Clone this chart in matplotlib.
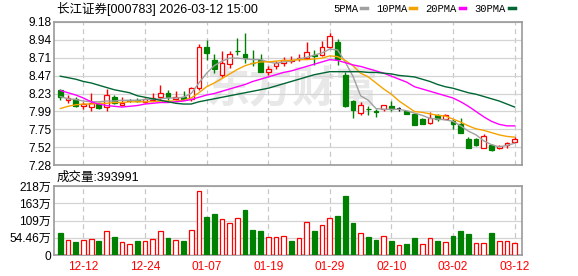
import matplotlib
matplotlib.use('Agg')
import matplotlib.pyplot as plt
from matplotlib.lines import Line2D
import numpy as np

plt.rcParams['font.family'] = ['Liberation Sans', 'Noto Sans CJK SC']

# trading days (MM-DD)
dates = ['12-09', '12-10', '12-11', '12-12', '12-15', '12-16', '12-17', '12-18', '12-19', '12-22',
         '12-23', '12-24', '12-25', '12-26', '12-29', '12-30', '12-31', '01-05', '01-06', '01-07',
         '01-08', '01-09', '01-12', '01-13', '01-14', '01-15', '01-16', '01-19', '01-20', '01-21',
         '01-22', '01-23', '01-26', '01-27', '01-28', '01-29', '01-30', '02-02', '02-03', '02-04',
         '02-05', '02-06', '02-09', '02-10', '02-11', '02-12', '02-13', '02-24', '02-25', '02-26',
         '02-27', '03-02', '03-03', '03-04', '03-05', '03-06', '03-09', '03-10', '03-11', '03-12']

opens = [8.27, 8.14, 8.16, 8.07, 8.05, 8.09, 8.05, 8.18, 8.08, 8.13,
         8.14, 8.12, 8.14, 8.18, 8.24, 8.16, 8.19, 8.16, 8.30, 8.85,
         8.67, 8.48, 8.62, 8.80, 8.76, 8.64, 8.68, 8.52, 8.59, 8.63,
         8.66, 8.69, 8.70, 8.74, 8.74, 8.85, 8.91, 8.48, 8.13, 7.97,
         8.03, 8.00, 8.03, 8.07, 8.02, 8.00, 7.96, 7.89, 7.84, 7.94,
         7.89, 7.86, 7.82, 7.62, 7.62, 7.51, 7.55, 7.51, 7.54, 7.59]
highs = [8.29, 8.21, 8.18, 8.12, 8.24, 8.12, 8.29, 8.21, 8.18, 8.16,
         8.17, 8.17, 8.24, 8.34, 8.28, 8.26, 8.26, 8.32, 8.89, 8.94,
         8.76, 8.80, 8.79, 8.97, 9.03, 8.81, 8.75, 8.59, 8.66, 8.72,
         8.73, 8.75, 8.91, 8.81, 8.93, 9.03, 8.95, 8.51, 8.15, 8.12,
         8.07, 8.03, 8.08, 8.13, 8.05, 8.00, 7.97, 7.90, 7.98, 7.96,
         7.96, 7.89, 7.90, 7.65, 7.64, 7.69, 7.56, 7.55, 7.59, 7.65]
lows = [8.14, 8.10, 8.05, 8.02, 8.00, 8.02, 8.00, 8.09, 8.07, 8.12,
        8.12, 8.11, 8.13, 8.14, 8.14, 8.14, 8.14, 8.13, 8.28, 8.68,
        8.50, 8.45, 8.57, 8.74, 8.63, 8.59, 8.52, 8.48, 8.55, 8.59,
        8.64, 8.66, 8.69, 8.61, 8.73, 8.84, 8.61, 8.05, 7.90, 7.95,
        7.94, 7.92, 8.00, 8.00, 8.00, 7.96, 7.81, 7.82, 7.83, 7.86,
        7.89, 7.76, 7.70, 7.50, 7.53, 7.50, 7.46, 7.49, 7.51, 7.58]
closes = [8.18, 8.17, 8.06, 8.09, 8.10, 8.04, 8.21, 8.11, 8.11, 8.13,
          8.13, 8.16, 8.17, 8.23, 8.19, 8.18, 8.16, 8.30, 8.85, 8.77,
          8.55, 8.64, 8.76, 8.79, 8.70, 8.63, 8.52, 8.56, 8.64, 8.68,
          8.677, 8.70, 8.78, 8.73, 8.85, 9.00, 8.69, 8.06, 8.01, 8.08,
          8.02, 7.98, 8.08, 8.02, 8.02, 7.96, 7.81, 7.83, 7.91, 7.89,
          7.95, 7.83, 7.71, 7.51, 7.54, 7.66, 7.48, 7.53, 7.57, 7.62]

ma5 = [8.19, 8.16, 8.15, 8.13, 8.12, 8.12, 8.13, 8.13, 8.14, 8.14,
       8.14, 8.15, 8.15, 8.16, 8.17, 8.17, 8.18, 8.23, 8.37, 8.50,
       8.60, 8.66, 8.70, 8.70, 8.69, 8.68, 8.68, 8.65, 8.63, 8.65,
       8.66, 8.69, 8.71, 8.74, 8.77, 8.82, 8.81, 8.65, 8.46, 8.20,
       8.14, 8.03, 8.02, 8.02, 8.02, 8.00, 7.97, 7.94, 7.90, 7.89,
       7.88, 7.86, 7.80, 7.73, 7.68, 7.60, 7.55, 7.52, 7.54, 7.57]
ma10 = [8.03, 8.06, 8.08, 8.09, 8.09, 8.10, 8.10, 8.11, 8.11, 8.12,
        8.12, 8.12, 8.12, 8.13, 8.13, 8.13, 8.14, 8.17, 8.24, 8.32,
        8.37, 8.43, 8.49, 8.55, 8.60, 8.63, 8.65, 8.65, 8.66, 8.67,
        8.67, 8.68, 8.68, 8.69, 8.70, 8.73, 8.72, 8.67, 8.60, 8.50,
        8.45, 8.37, 8.29, 8.22, 8.13, 8.06, 7.99, 7.98, 7.96, 7.94,
        7.93, 7.89, 7.85, 7.80, 7.76, 7.74, 7.71, 7.68, 7.66, 7.65]
ma20 = [8.27, 8.24, 8.21, 8.17, 8.12, 8.09, 8.07, 8.06, 8.05, 8.06,
        8.07, 8.09, 8.10, 8.11, 8.11, 8.12, 8.13, 8.15, 8.18, 8.21,
        8.23, 8.26, 8.29, 8.32, 8.35, 8.39, 8.42, 8.45, 8.48, 8.51,
        8.53, 8.56, 8.59, 8.62, 8.65, 8.68, 8.67, 8.64, 8.61, 8.59,
        8.56, 8.53, 8.50, 8.46, 8.42, 8.38, 8.32, 8.29, 8.26, 8.23,
        8.20, 8.17, 8.12, 8.06, 7.99, 7.92, 7.86, 7.82, 7.80, 7.80]
ma30 = [8.46, 8.44, 8.42, 8.39, 8.37, 8.34, 8.31, 8.28, 8.26, 8.24,
        8.20, 8.18, 8.16, 8.14, 8.12, 8.10, 8.09, 8.09, 8.12, 8.14,
        8.16, 8.18, 8.20, 8.22, 8.24, 8.26, 8.28, 8.30, 8.33, 8.36,
        8.39, 8.42, 8.45, 8.48, 8.50, 8.52, 8.52, 8.52, 8.52, 8.52,
        8.51, 8.51, 8.50, 8.49, 8.47, 8.46, 8.45, 8.42, 8.39, 8.35,
        8.32, 8.30, 8.27, 8.24, 8.22, 8.19, 8.16, 8.13, 8.09, 8.05]

# volume in 万 (10k)
volume = [69.5, 47.4, 41.0, 47.4, 50.5, 44.2, 74.7, 56.8, 41.0, 34.7,
          44.2, 44.2, 50.5, 75.8, 53.7, 47.4, 44.2, 78.9, 202.0, 120.0,
          129.4, 113.7, 101.0, 116.8, 142.0, 78.9, 75.8, 56.8, 56.8, 60.0,
          44.2, 53.7, 104.2, 75.8, 94.7, 116.8, 123.1, 186.3, 101.0, 69.5,
          56.8, 47.4, 60.0, 44.2, 31.6, 34.7, 53.7, 34.7, 53.7, 44.2,
          41.0, 60.0, 75.8, 66.3, 37.9, 37.9, 69.5, 44.2, 44.2, 39.4]
vol_up = [0, 1, 0, 1, 1, 0, 1, 0, 1, 1,
          0, 1, 1, 1, 0, 1, 0, 1, 1, 0,
          0, 1, 1, 1, 0, 0, 0, 1, 1, 1,
          0, 1, 1, 0, 1, 1, 0, 0, 0, 1,
          0, 0, 1, 0, 1, 0, 0, 1, 1, 0,
          1, 0, 0, 0, 1, 1, 0, 1, 1, 1]

price_ticks = [7.28, 7.5175, 7.755, 7.9925, 8.23, 8.4675, 8.705, 8.9425, 9.18]
price_labels = ['7.28', '7.52', '7.75', '7.99', '8.23', '8.47', '8.71', '8.94', '9.18']
vol_ticks = [0, 54.46, 108.92, 163.38, 217.84]
vol_labels = ['0', '54.46万', '109万', '163万', '218万']
tick_dates = ['12-12', '12-24', '01-07', '01-19', '01-29', '02-10', '03-02', '03-12']

RED = '#ff0000'
GREEN = '#008000'
FRAME = '#999999'
GRID = '#d4d4d4'

x = np.arange(len(dates))
o = np.array(opens)
h = np.array(highs)
l = np.array(lows)
c = np.array(closes)
up = c > o
down = c < o
flat = c == o
w = 0.62

fig = plt.figure(figsize=(5.78, 2.76), dpi=100)
ax = fig.add_axes([54 / 578, 111 / 276, 468 / 578, 143 / 276])
axv = fig.add_axes([54 / 578, 21 / 276, 468 / 578, 69 / 276])

xt = [dates.index(d) for d in tick_dates]
for a in (ax, axv):
    a.set_xlim(-0.82, 59.96)
    for s in a.spines.values():
        s.set_color(FRAME)
        s.set_linewidth(1.2)
    a.set_xticks(xt)
    a.tick_params(length=0, labelsize=8.6, pad=2)
    a.grid(axis='y', color=GRID, linewidth=0.9, linestyle='-', zorder=0)
    a.grid(axis='x', color='#c8c8c8', linewidth=0.9, linestyle=(0, (4, 3)), zorder=0)
    a.set_axisbelow(True)

# price panel
ax.set_ylim(7.28, 9.18)
ax.set_yticks(price_ticks)
ax.set_yticklabels(price_labels)
ax.set_xticklabels([])
ax.text(0.51, 0.52, '东方财富', transform=ax.transAxes, fontsize=31, color='#e8e8e8',
        fontweight='bold', style='italic', ha='center', va='center', zorder=0.5)

# up candles (hollow red)
ax.vlines(x[up], c[up], h[up], color=RED, linewidth=1, zorder=2)
ax.vlines(x[up], l[up], o[up], color=RED, linewidth=1, zorder=2)
ax.bar(x[up], (c - o)[up], bottom=o[up], width=w, facecolor='white', edgecolor=RED,
       linewidth=0.9, zorder=3)
# down candles (filled green)
ax.vlines(x[down], l[down], h[down], color=GREEN, linewidth=1, zorder=2)
ax.bar(x[down], (o - c)[down], bottom=c[down], width=w, color=GREEN, edgecolor=GREEN,
       linewidth=0.9, zorder=3)
# doji
ax.vlines(x[flat], l[flat], h[flat], color='black', linewidth=1, zorder=2)
ax.hlines(o[flat], x[flat] - w / 2, x[flat] + w / 2, color='black', linewidth=1.2, zorder=3)

ax.plot(x, ma5, color='#a0a0a0', linewidth=1, zorder=4)
ax.plot(x, ma10, color='#f5a300', linewidth=1, zorder=4)
ax.plot(x, ma20, color='#ff00ff', linewidth=1, zorder=4)
ax.plot(x, ma30, color='#006633', linewidth=1, zorder=4)

# volume panel
vol = np.array(volume)
vu = np.array(vol_up) == 1
axv.set_ylim(0, 217.84)
axv.set_yticks(vol_ticks)
axv.set_yticklabels(vol_labels)
axv.bar(x[vu], vol[vu], width=w, facecolor='white', edgecolor=RED, linewidth=0.9, zorder=3)
axv.bar(x[~vu], vol[~vu], width=w, color=GREEN, edgecolor=GREEN, linewidth=0.9, zorder=3)
axv.set_xticklabels(tick_dates, color=RED)
axv.tick_params(axis='x', pad=4)

fig.text(57 / 578, 1 - 9 / 276, '长江证券[000783] 2026-03-12 15:00', fontsize=9,
         va='center', ha='left')
fig.text(57 / 578, 1 - 178 / 276, '成交量:393991', fontsize=9, va='center', ha='left')

handles = [Line2D([], [], color=col, linewidth=2.5) for col in
           ['#a0a0a0', '#f5a300', '#ff00ff', '#006633']]
fig.legend(handles, ['5PMA', '10PMA', '20PMA', '30PMA'], loc='center',
           bbox_to_anchor=(424 / 578, 1 - 9 / 276), ncol=4, frameon=False,
           markerfirst=False, handlelength=0.55, handletextpad=0.25, columnspacing=0.9,
           prop={'family': 'Liberation Mono', 'size': 7.6})

fig.savefig('out.png', dpi=100)
